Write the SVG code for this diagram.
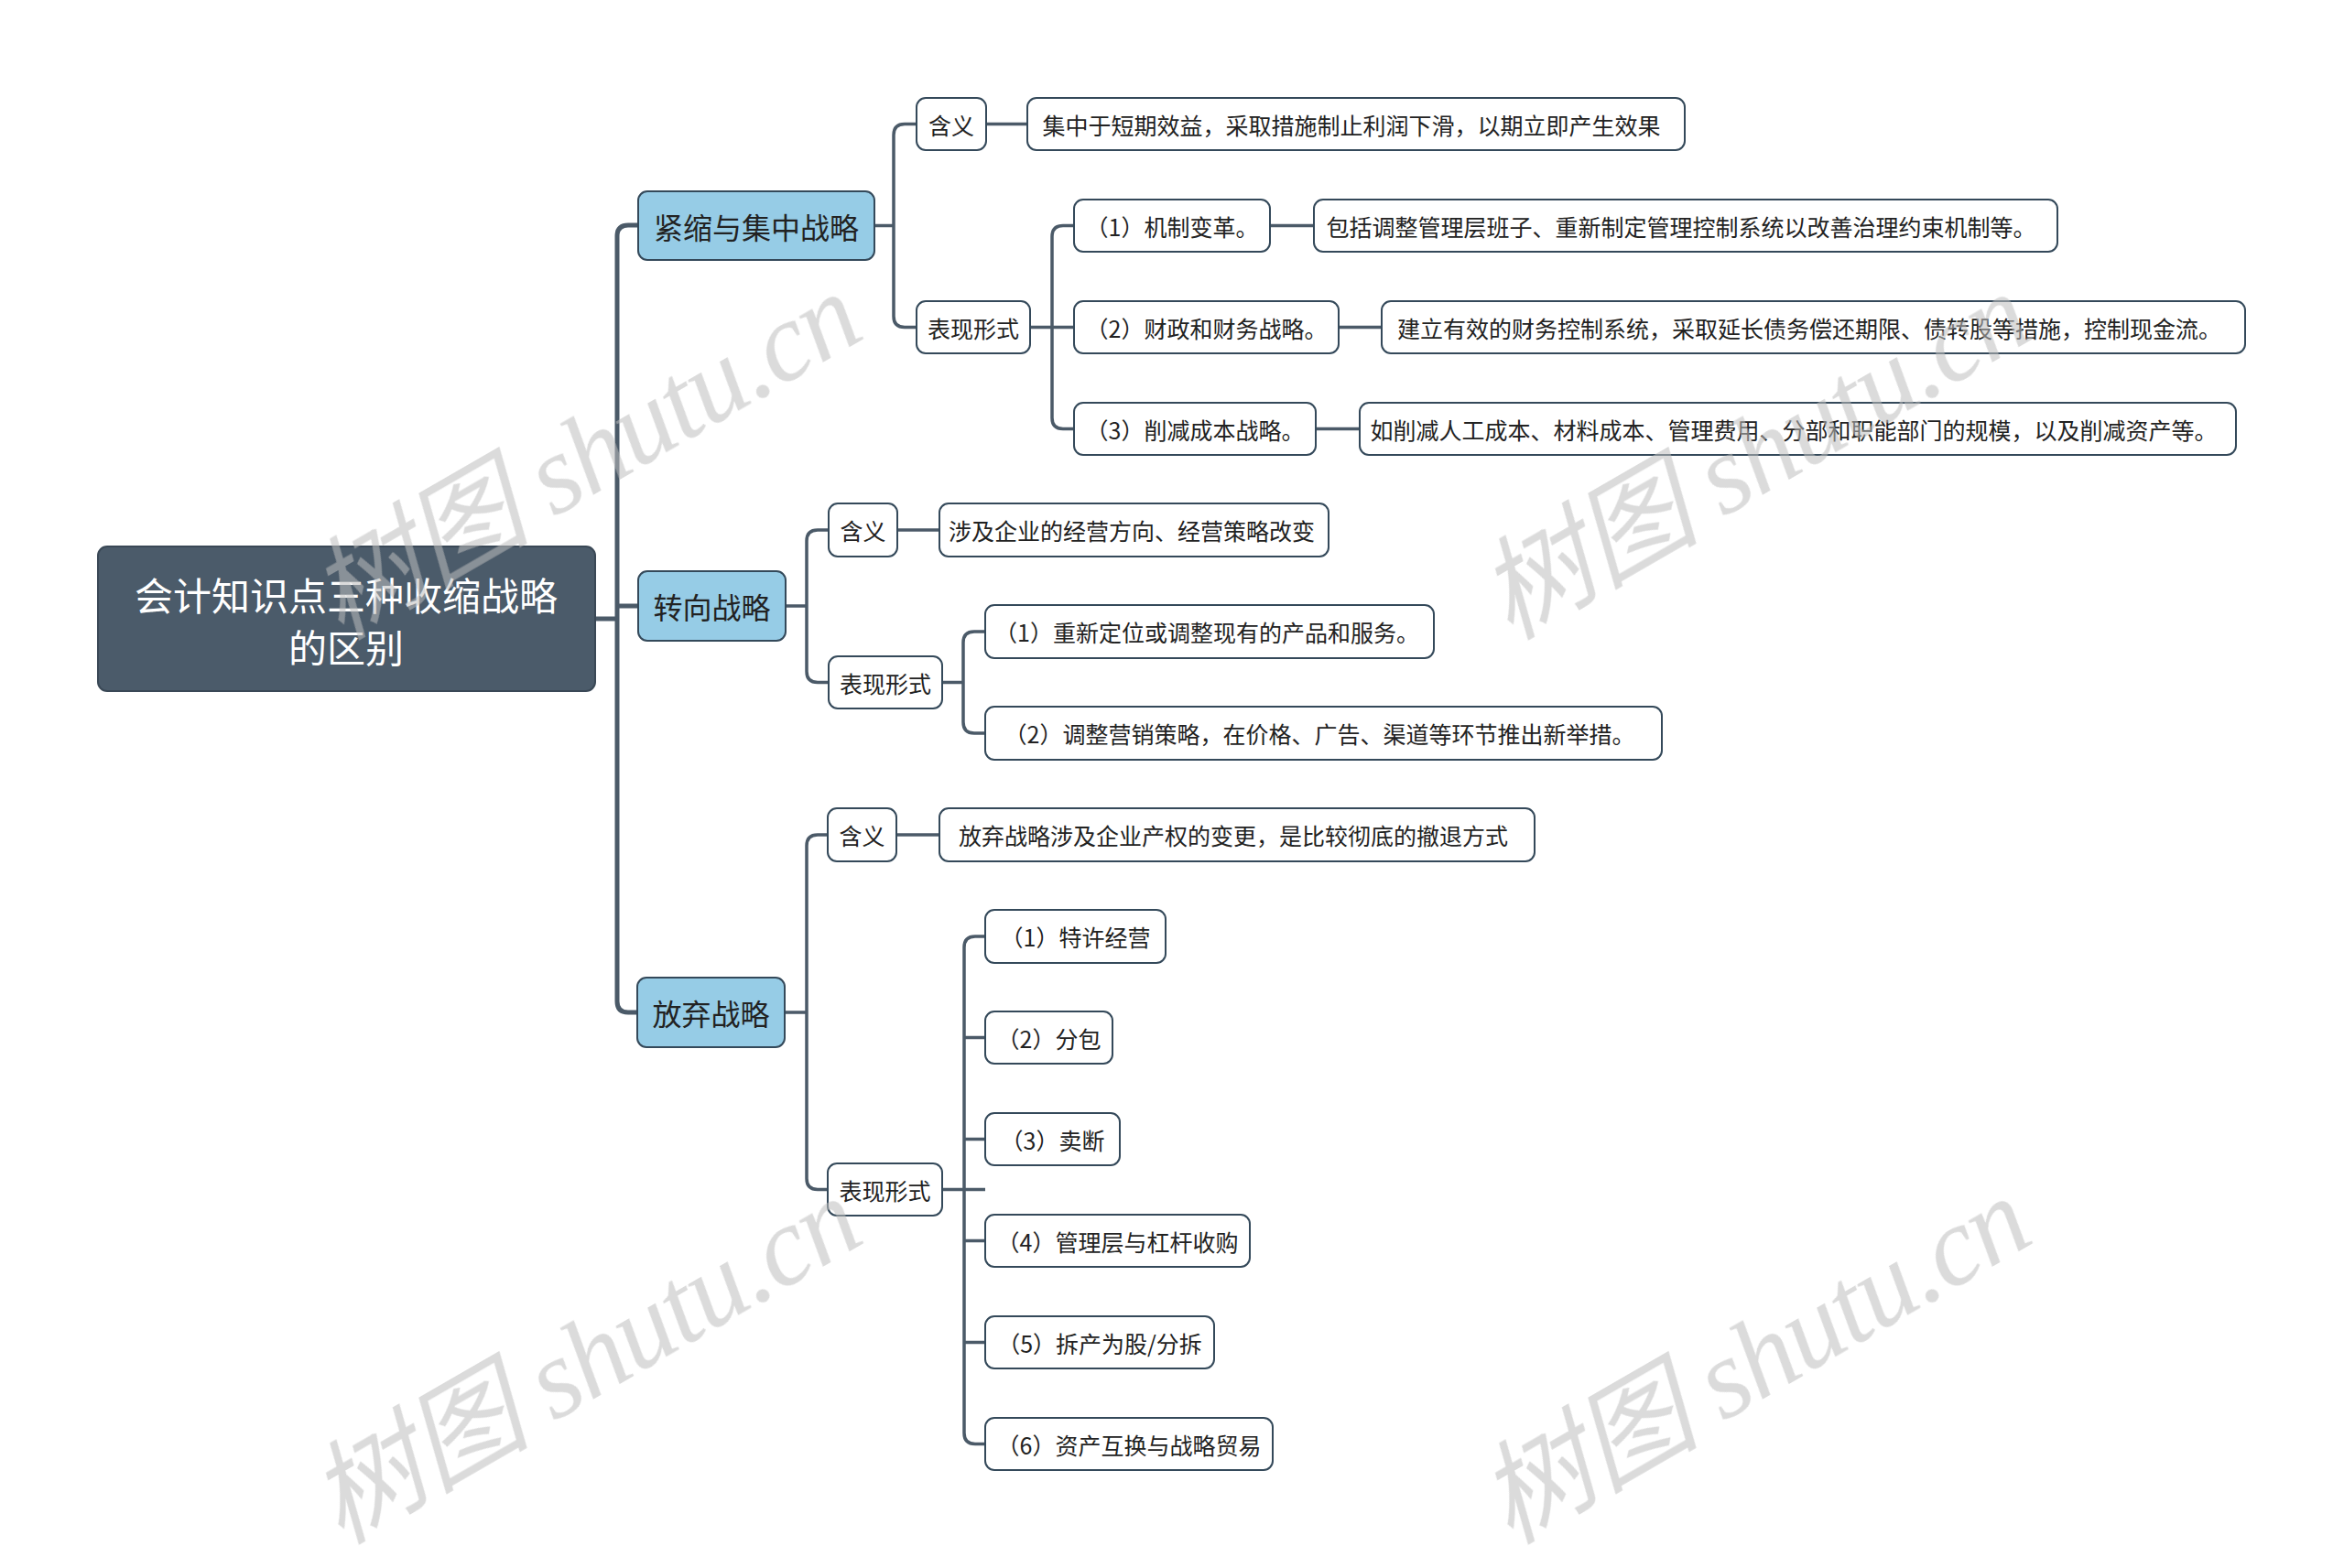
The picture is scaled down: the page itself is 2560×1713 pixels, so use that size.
<svg xmlns="http://www.w3.org/2000/svg" width="2560" height="1713" viewBox="0 0 2560 1713">
<style>
.bg{fill:#ffffff}
.wm{font-family:"Liberation Serif","Noto Sans CJK SC",serif;font-style:italic;font-size:122px;fill:#bdbdbd}
.root rect{fill:#4b5b6a;stroke:#3a4856;stroke-width:2}
.root text{font-family:"Noto Sans CJK SC","Noto Sans",sans-serif;font-size:42px;fill:#ffffff;text-anchor:middle;dominant-baseline:central}
.topic rect{fill:#96cce6;stroke:#34495a;stroke-width:2}
.topic text{font-family:"Noto Sans CJK SC","Noto Sans",sans-serif;font-size:32px;fill:#222;text-anchor:middle;dominant-baseline:central}
.sub rect{fill:#ffffff;stroke:#34495a;stroke-width:2}
.sub text{font-family:"Noto Sans CJK SC","Noto Sans",sans-serif;font-size:25px;fill:#222;text-anchor:middle;dominant-baseline:central}
.c1{fill:none;stroke:#4b5a68;stroke-width:5}
.c2{fill:none;stroke:#4b5a68;stroke-width:3.5}
</style>
<rect class="bg" x="0" y="0" width="2560" height="1713"/>
<g id="connectors">
<path class="c1" d="M650 676 H674 M674 662 H697 M697 246 H686 Q674 246 674 258 V1094 Q674 1106 686 1106 H697"/>
<path class="c2" d="M955 246.5 H976 M1001 135.5 H988 Q976 135.5 976 147.5 V345.5 Q976 357.5 988 357.5 H1001"/>
<path class="c2" d="M1077 135.5 H1122"/>
<path class="c2" d="M1125 357.5 H1173 M1173 246.5 H1161 Q1149 246.5 1149 258.5 V456.5 Q1149 468.5 1161 468.5 H1173"/>
<path class="c2" d="M1387 246.5 H1435 M1462 357.5 H1509 M1437 468.5 H1485"/>
<path class="c2" d="M858 662 H881 M905 579 H893 Q881 579 881 591 V733.5 Q881 745.5 893 745.5 H905"/>
<path class="c2" d="M980 579 H1026"/>
<path class="c2" d="M1029 745.5 H1052 M1076 690 H1064 Q1052 690 1052 702 V789 Q1052 801 1064 801 H1076"/>
<path class="c2" d="M857 1106 H881 M904 912 H893 Q881 912 881 924 V1287.5 Q881 1299.5 893 1299.5 H904"/>
<path class="c2" d="M979 912 H1026"/>
<path class="c2" d="M1029 1299.5 H1076 M1076 1023 H1065 Q1053 1023 1053 1035 V1565.5 Q1053 1577.5 1065 1577.5 H1076 M1053 1133.5 H1076 M1053 1244.5 H1076 M1053 1355.5 H1076 M1053 1466.5 H1076"/>
</g>
<g id="root" class="root"><rect x="107" y="597" width="543" height="158" rx="10"/><text x="378" y="648">会计知识点三种收缩战略</text><text x="378" y="705">的区别</text></g>
<g id="t1" class="topic"><rect x="697" y="209" width="258" height="75" rx="10"/><text x="826" y="246.5">紧缩与集中战略</text></g>
<g id="t1a" class="sub"><rect x="1001" y="107" width="76" height="57" rx="10"/><text x="1039" y="135.5">含义</text></g>
<g id="t1a1" class="sub"><rect x="1122" y="107" width="718" height="57" rx="10"/><text x="1476" y="135.5">集中于短期效益，采取措施制止利润下滑，以期立即产生效果</text></g>
<g id="t1b" class="sub"><rect x="1001" y="329" width="124" height="57" rx="10"/><text x="1063" y="357.5">表现形式</text></g>
<g id="t1b1" class="sub"><rect x="1173" y="218" width="214" height="57" rx="10"/><text x="1280" y="246.5">（1）机制变革。</text></g>
<g id="t1b1d" class="sub"><rect x="1435" y="218" width="812" height="57" rx="10"/><text x="1836" y="246.5">包括调整管理层班子、重新制定管理控制系统以改善治理约束机制等。</text></g>
<g id="t1b2" class="sub"><rect x="1173" y="329" width="289" height="57" rx="10"/><text x="1317.5" y="357.5">（2）财政和财务战略。</text></g>
<g id="t1b2d" class="sub"><rect x="1509" y="329" width="943" height="57" rx="10"/><text x="1976" y="357.5">建立有效的财务控制系统，采取延长债务偿还期限、债转股等措施，控制现金流。</text></g>
<g id="t1b3" class="sub"><rect x="1173" y="440" width="264" height="57" rx="10"/><text x="1305" y="468.5">（3）削减成本战略。</text></g>
<g id="t1b3d" class="sub"><rect x="1485" y="440" width="957" height="57" rx="10"/><text x="1959" y="468.5">如削减人工成本、材料成本、管理费用、分部和职能部门的规模，以及削减资产等。</text></g>
<g id="t2" class="topic"><rect x="697" y="624" width="161" height="76" rx="10"/><text x="777.5" y="662">转向战略</text></g>
<g id="t2a" class="sub"><rect x="905" y="550" width="75" height="58" rx="10"/><text x="942.5" y="579">含义</text></g>
<g id="t2a1" class="sub"><rect x="1026" y="550" width="425" height="58" rx="10"/><text x="1236" y="579">涉及企业的经营方向、经营策略改变</text></g>
<g id="t2b" class="sub"><rect x="905" y="717" width="124" height="57" rx="10"/><text x="967" y="745.5">表现形式</text></g>
<g id="t2b1" class="sub"><rect x="1076" y="661" width="490" height="58" rx="10"/><text x="1318" y="690">（1）重新定位或调整现有的产品和服务。</text></g>
<g id="t2b2" class="sub"><rect x="1076" y="772" width="739" height="58" rx="10"/><text x="1441" y="801">（2）调整营销策略，在价格、广告、渠道等环节推出新举措。</text></g>
<g id="t3" class="topic"><rect x="696" y="1068" width="161" height="76" rx="10"/><text x="776.5" y="1106">放弃战略</text></g>
<g id="t3a" class="sub"><rect x="904" y="883" width="75" height="58" rx="10"/><text x="941.5" y="912">含义</text></g>
<g id="t3a1" class="sub"><rect x="1026" y="883" width="650" height="58" rx="10"/><text x="1347" y="912">放弃战略涉及企业产权的变更，是比较彻底的撤退方式</text></g>
<g id="t3b" class="sub"><rect x="904" y="1271" width="125" height="57" rx="10"/><text x="966.5" y="1299.5">表现形式</text></g>
<g id="t3b1" class="sub"><rect x="1076" y="994" width="197" height="58" rx="10"/><text x="1174.5" y="1023">（1）特许经营</text></g>
<g id="t3b2" class="sub"><rect x="1076" y="1105" width="139" height="57" rx="10"/><text x="1145.5" y="1133.5">（2）分包</text></g>
<g id="t3b3" class="sub"><rect x="1076" y="1216" width="147" height="57" rx="10"/><text x="1149.5" y="1244.5">（3）卖断</text></g>
<g id="t3b4" class="sub"><rect x="1076" y="1327" width="289" height="57" rx="10"/><text x="1220.5" y="1355.5">（4）管理层与杠杆收购</text></g>
<g id="t3b5" class="sub"><rect x="1076" y="1438" width="250" height="57" rx="10"/><text x="1201" y="1466.5">（5）拆产为股/分拆</text></g>
<g id="t3b6" class="sub"><rect x="1076" y="1549" width="314" height="57" rx="10"/><text x="1233" y="1577.5">（6）资产互换与战略贸易</text></g>
<g id="watermarks" opacity="0.55">
<text class="wm" transform="translate(372 700) rotate(-30)" textLength="665" lengthAdjust="spacing">树图 shutu.cn</text>
<text class="wm" transform="translate(1649 700) rotate(-30)" textLength="665" lengthAdjust="spacing">树图 shutu.cn</text>
<text class="wm" transform="translate(372 1688) rotate(-30)" textLength="665" lengthAdjust="spacing">树图 shutu.cn</text>
<text class="wm" transform="translate(1649 1688) rotate(-30)" textLength="665" lengthAdjust="spacing">树图 shutu.cn</text>
</g>
</svg>
